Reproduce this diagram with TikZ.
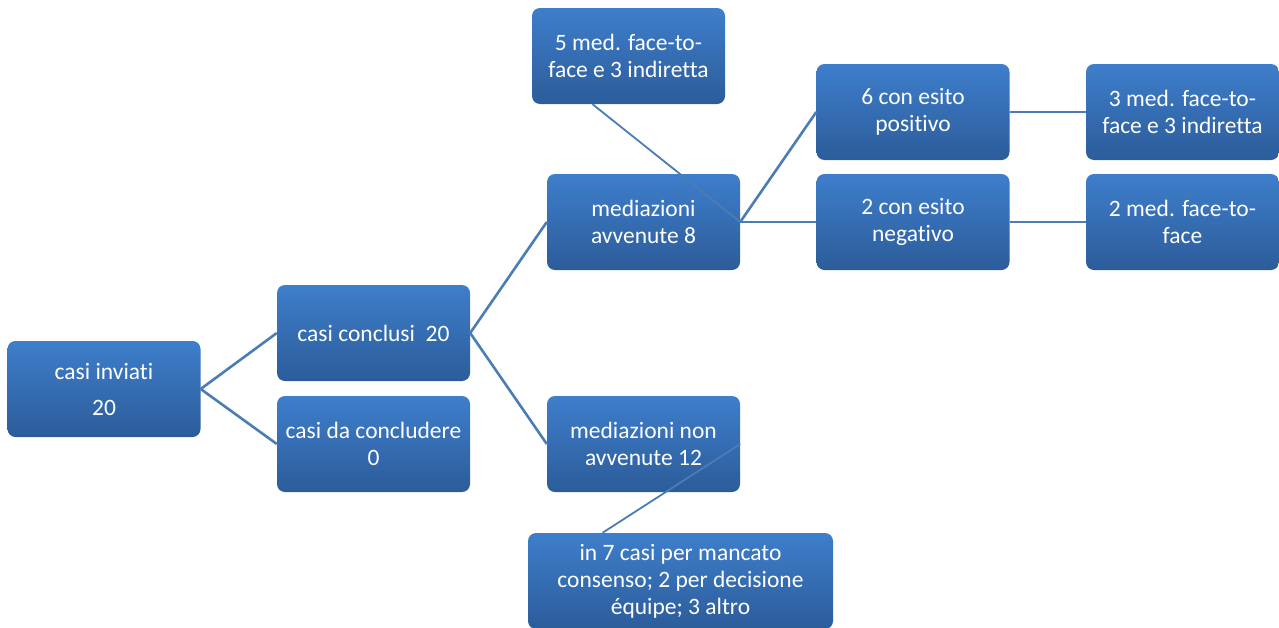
\documentclass[tikz,border=0pt]{standalone}
\usepackage{fontspec}
\setmainfont{Carlito}[RawFeature={-liga;-clig;-dlig;-calt}]
\usepackage{tikz}
\definecolor{boxtop}{RGB}{62,126,203}
\definecolor{boxbot}{RGB}{44,92,154}
\definecolor{linkcol}{RGB}{74,124,182}

\begin{document}
\begin{tikzpicture}[x=1pt, y=-1pt,
        every node/.style={rounded corners=8pt, top color=boxtop, bottom color=boxbot, text=white, align=center, minimum width=193pt, minimum height=96pt, inner sep=2pt, font=\fontsize{23.5}{27}\selectfont},
        link/.style={draw=linkcol, line width=2.6pt}]
        \useasboundingbox (0,0) rectangle (1279,627);
        \node (inv) at (104,389) {casi inviati\\[9pt]20};
        \node (concl) at (373.5,333) {casi conclusi~ 20};
        \node (dacon) at (373.5,444) {casi da concludere\\0};
        \node (avv) at (643.5,222) {mediazioni\\avvenute 8};
        \node (top5) at (628.5,56) {5 med. face-to-\\face e 3 indiretta};
        \node (nonavv) at (643.5,444) {mediazioni non\\avvenute 12};
        \node[minimum width=305pt] (casi7) at (680.5,581) {in 7 casi per mancato\\consenso; 2 per decisione\\équipe; 3 altro};
        \node (pos) at (913,112) {6 con esito\\positivo};
        \node (neg) at (913,222) {2 con esito\\negativo};
        \node (med3) at (1182.5,112) {3 med. face-to-\\face e 3 indiretta};
        \node (med2) at (1182.5,222) {2 med. face-to-\\face};
    
        \draw[link] (inv.east) -- (concl.west);
        \draw[link] (inv.east) -- (dacon.west);
        \draw[link] (concl.east) -- (avv.west);
        \draw[link] (concl.east) -- (nonavv.west);
        \draw[link] (avv.east) -- (pos.west);
        \draw[link] (avv.east) -- (neg.west);
        \draw[link] (pos.east) -- (med3.west);
        \draw[link] (neg.east) -- (med2.west);
        \draw[link, line width=1.8pt] (avv.east) -- ([xshift=-36pt]top5.south);
        \draw[link, line width=1.8pt] (nonavv.east) -- ([xshift=-78pt]casi7.north);
    \end{tikzpicture}
\end{document}
